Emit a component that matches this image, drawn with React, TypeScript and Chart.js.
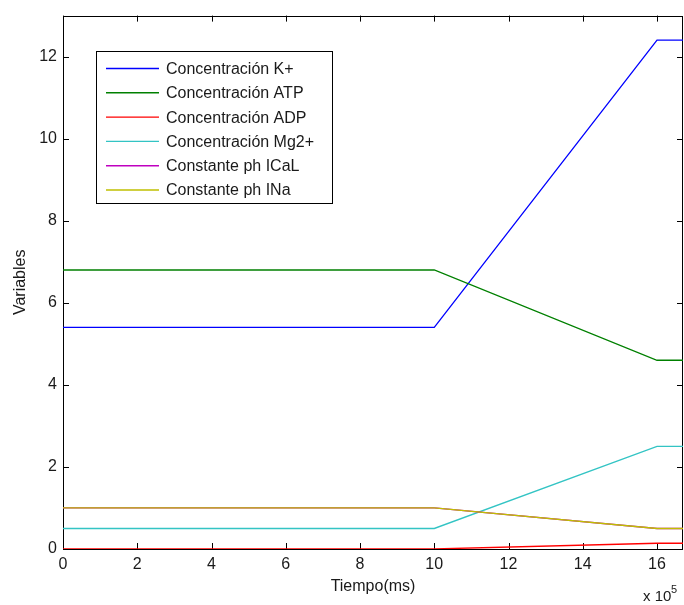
import React, { useEffect, useRef } from 'react';
import { Chart, registerables } from 'chart.js';

Chart.register(...registerables);

// ---- data ----
const timeMs = [0, 1000000, 1600000, 1670000];
const concK = [5.4, 5.4, 12.4, 12.4];
const concATP = [6.8, 6.8, 4.6, 4.6];
const concADP = [0.0, 0.0, 0.14, 0.14];
const concMg = [0.5, 0.5, 2.5, 2.5];
const phICaL = [1.0, 1.0, 0.5, 0.5];
const phINa = [1.0, 1.0, 0.5, 0.5];

const seriesLabels = [
  'Concentración K+',
  'Concentración ATP',
  'Concentración ADP',
  'Concentración Mg2+',
  'Constante ph ICaL',
  'Constante ph INa',
];
const seriesValues = [concK, concATP, concADP, concMg, phICaL, phINa];
const seriesColors = ['#0000ff', '#008000', '#ff0000', '#33c4c4', '#bf00bf', '#bfbf00'];

const xTickValues = [0, 200000, 400000, 600000, 800000, 1000000, 1200000, 1400000, 1600000];
const yTickValues = [0, 2, 4, 6, 8, 10, 12];
const xMax = 1670000;
const yMax = 13;

const FONT = "'Liberation Sans', Arial, Helvetica, sans-serif";
const TEXT = '#1a1a1a';

const overlayPlugin = {
  id: 'matlabOverlay',
  beforeDatasetsDraw(chart: any) {
    const ctx = chart.ctx as CanvasRenderingContext2D;
    const { left, right, top, bottom } = chart.chartArea;
    const xs = chart.scales.x;
    const ys = chart.scales.y;
    ctx.save();
    ctx.strokeStyle = '#000';
    ctx.lineWidth = 1;
    ctx.strokeRect(Math.round(left) + 0.5, Math.round(top) + 0.5, Math.round(right - left) - 1, Math.round(bottom - top));
    const tl = 6;
    ctx.beginPath();
    xs.ticks.forEach((t: any) => {
      const px = Math.round(xs.getPixelForValue(t.value)) + 0.5;
      ctx.moveTo(px, bottom);
      ctx.lineTo(px, bottom - tl);
      ctx.moveTo(px, top);
      ctx.lineTo(px, top + tl);
    });
    ys.ticks.forEach((t: any) => {
      const py = Math.round(ys.getPixelForValue(t.value)) + 0.5;
      ctx.moveTo(left, py);
      ctx.lineTo(left + tl, py);
      ctx.moveTo(right, py);
      ctx.lineTo(right - tl, py);
    });
    ctx.stroke();
    ctx.restore();
  },
  afterDraw(chart: any) {
    const ctx = chart.ctx as CanvasRenderingContext2D;
    ctx.save();
    // legend
    const bx = 96.5, by = 51.5, bw = 236, bh = 152;
    ctx.fillStyle = '#fff';
    ctx.fillRect(bx, by, bw, bh);
    ctx.strokeStyle = '#000';
    ctx.lineWidth = 1;
    ctx.strokeRect(bx, by, bw, bh);
    ctx.font = `16px ${FONT}`;
    ctx.textBaseline = 'middle';
    ctx.textAlign = 'left';
    seriesLabels.forEach((label, i) => {
      const y = 68.5 + i * 24.3;
      ctx.strokeStyle = seriesColors[i];
      ctx.lineWidth = 1.4;
      ctx.beginPath();
      ctx.moveTo(106, y);
      ctx.lineTo(159, y);
      ctx.stroke();
      ctx.fillStyle = TEXT;
      ctx.fillText(label, 166, y + 1);
    });

    // exponent label
    ctx.fillStyle = TEXT;
    ctx.textBaseline = 'alphabetic';
    ctx.font = `15px ${FONT}`;
    ctx.fillText('x 10', 643, 601);
    ctx.font = `11px ${FONT}`;
    ctx.fillText('5', 671, 593);
    ctx.restore();
  },
};

export default function App() {
  const canvasRef = useRef<HTMLCanvasElement | null>(null);

  useEffect(() => {
    const canvas = canvasRef.current;
    if (!canvas) return;
    const datasets = seriesLabels.map((label, i) => ({
      label,
      data: timeMs.map((t, j) => ({ x: t, y: seriesValues[i][j] })),
      borderColor: seriesColors[i],
      backgroundColor: seriesColors[i],
      borderWidth: 1.3,
      pointRadius: 0,
      tension: 0,
      fill: false,
      order: seriesLabels.length - i,
    }));
    const chart = new Chart(canvas, {
      type: 'line',
      data: { datasets },
      options: {
        responsive: false,
        animation: false,
        layout: { padding: { top: 12, right: 1, left: 0, bottom: 0 } },
        plugins: { legend: { display: false }, tooltip: { enabled: false } },
        scales: {
          x: {
            type: 'linear',
            min: 0,
            max: xMax,
            grid: { display: false, drawTicks: false },
            border: { display: false },
            afterBuildTicks: (scale: any) => {
              scale.ticks = xTickValues.map((v) => ({ value: v }));
            },
            ticks: {
              autoSkip: false,
              maxRotation: 0,
              padding: 6,
              color: TEXT,
              font: { family: FONT, size: 16 },
              callback: (v: any) => String(Math.round(Number(v) / 100000)),
            },
            title: {
              display: true,
              text: 'Tiempo(ms)',
              color: TEXT,
              font: { family: FONT, size: 16 },
              padding: { top: 0, bottom: 9 },
            },
            afterFit: (scale: any) => {
              scale.height = 56;
            },
          },
          y: {
            type: 'linear',
            min: 0,
            max: yMax,
            grid: { display: false, drawTicks: false },
            border: { display: false },
            afterBuildTicks: (scale: any) => {
              scale.ticks = yTickValues.map((v) => ({ value: v }));
            },
            ticks: {
              autoSkip: false,
              padding: 6,
              color: TEXT,
              font: { family: FONT, size: 16 },
            },
            title: {
              display: true,
              text: 'Variables',
              color: TEXT,
              font: { family: FONT, size: 16 },
              padding: { top: 11, bottom: 0 },
            },
            afterFit: (scale: any) => {
              scale.width = 63;
            },
          },
        },
      },
      plugins: [overlayPlugin],
    });
    return () => chart.destroy();
  }, []);

  return (
    <div style={{ position: 'fixed', left: 0, top: 0, width: 684, height: 605, background: '#fff' }}>
      <canvas ref={canvasRef} width={684} height={605} style={{ display: 'block' }} />
    </div>
  );
}
